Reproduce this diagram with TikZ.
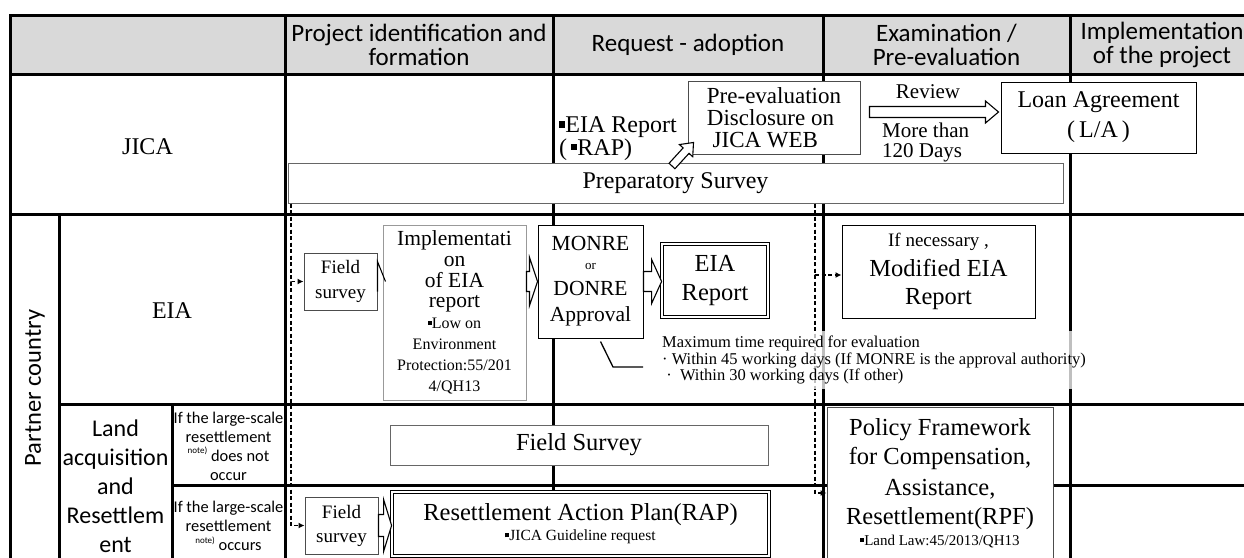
\documentclass[tikz,border=0pt]{standalone}
\usepackage{fontspec}
\setmainfont{Liberation Serif}
\newfontfamily\carl{Carlito}
\usetikzlibrary{calc,arrows.meta}
\newcommand\fsz[2]{\fontsize{#1}{#2}\selectfont\spaceskip=0.25em\xspaceskip=0.25em\relax}
\newcommand\sqb{\raisebox{0.22em}{\rule{0.26em}{0.26em}}}
\newcommand\nt{\raisebox{0.45em}{\fsz{9}{9}note)}}
\newcommand\barrow[5]{%
  \coordinate (bA) at (#1);
  \coordinate (bB) at (#2);
  \coordinate (bX) at ($(bB)!#5!(bA)$);
  \draw[blk] ($(bA)!#3!90:(bB)$) -- ($(bX)!#3!-90:(bA)$) -- ($(bX)!#4!-90:(bA)$) -- (bB)
    -- ($(bX)!#4!90:(bA)$) -- ($(bX)!#3!90:(bA)$) -- ($(bA)!#3!-90:(bB)$) -- cycle;}
\definecolor{hdr}{HTML}{D9D9D9}
\begin{document}
\begin{tikzpicture}[x=1pt,y=-1pt,
  tbl/.style={line width=3pt, line cap=rect},
  box/.style={draw=black, line width=1pt, fill=white, inner sep=0pt, align=center},
  gbox/.style={box, draw=black!60},
  lbox/.style={box, draw=black!40},
  dbl/.style={box, double, double distance=1.6pt, line width=0.8pt},
  dsh/.style={dash pattern=on 4pt off 2.5pt, line width=1.5pt, -{Latex[length=6pt,width=6pt]}},
  blk/.style={draw=black, fill=white, line width=1.1pt, line join=miter},
  lbl/.style={align=center, inner sep=0pt}]
\useasboundingbox (0,0) rectangle (1244,557);
\clip (0,0) rectangle (1244,557);
% header
\fill[hdr] (10,15) rectangle (1244,74);
\draw[tbl] (10,15) -- (1244,15) (10,74) -- (1244,74) (10,214) -- (1244,214)
  (59,404) -- (1244,404) (172,485) -- (1244,485)
  (10,15) -- (10,560) (59,214) -- (59,560) (172,404) -- (172,560)
  (285,15) -- (285,560) (553,15) -- (553,560) (823,15) -- (823,560) (1070,15) -- (1070,560);
\node[lbl, font=\carl\fontsize{25}{24}\selectfont] (h1) at (419,45) {Project identification and\\formation};
\node[lbl, font=\carl\fontsize{25}{24}\selectfont] (h2) at (688,45) {Request - adoption};
\node[lbl, font=\carl\fontsize{25}{24}\selectfont] (h3) at (946.5,45) {Examination /\\Pre-evaluation};
\node[lbl, font=\carl\fontsize{25}{24}\selectfont] (h4) at (1162,45) {Implementation\\of the project};
% row labels
\node[lbl, font=\fsz{24}{26}] (jica) at (147.5,147) {JICA};
\node[lbl, font=\fsz{24}{26}] (eia) at (172,311) {EIA};
\node[lbl, rotate=90, font=\carl\fontsize{24.5}{26}\selectfont] (pc) at (35,388) {Partner country};
\node[lbl, font=\carl\fontsize{24}{29}\selectfont] (land) at (115.5,486) {Land\\acquisition\\and\\Resettlem\\ent};
\node[lbl, font=\carl\fontsize{16.4}{19}\selectfont] (cnd1) at (228.5,446) {If the large-scale\\resettlement\\\nt{} does not\\occur};
\node[lbl, font=\carl\fontsize{16.4}{19}\selectfont] (cnd2) at (228.5,526) {If the large-scale\\resettlement\\\nt{} occurs};
% JICA row
\node[gbox, minimum width=775pt, minimum height=40pt, font=\fsz{24}{24}] (prep) at (675.5,183) {Preparatory Survey};
\node[box, draw=black!70, align=left, minimum width=172pt, minimum height=73pt, font=\fsz{23}{22}] (pre) at (774,117.5) {Pre-evaluation\\Disclosure on\\\ JICA WEB};
\node[lbl, align=left, anchor=west, font=\fsz{24}{17}] (eiat) at (559,139) {\sqb EIA Report\\(\,\sqb RAP)};
\node[lbl, font=\fsz{21}{20}] (rev) at (928,92) {Review};
\node[lbl, align=left, anchor=west, font=\fsz{21}{20}] (more) at (882,142) {More than\\120 Days};
\node[box, minimum width=195pt, minimum height=71pt, font=\fsz{24}{30}] (loan) at (1098.5,117.5) {Loan Agreement\\(\,L/A\,)};
% EIA row
\node[box, draw=black!70, minimum width=73pt, minimum height=57pt, font=\fsz{19}{25}] (fs1) at (340.5,281.5) {Field\\survey};
\node[lbox, minimum width=143pt, minimum height=175pt, text width=140pt] (impl) at (454.5,312.5)
  {{\fsz{21.5}{20.7}Implementati\par on\par of EIA\par report\par}{\fsz{16}{21}\sqb Low on\par Environment\par Protection:55/201\par 4/QH13\par}};
\node[box, minimum width=105pt, minimum height=113pt, text width=102pt] (monre) at (590.5,281.5)
  {{\fsz{21.5}{24}MONRE\par}{\fsz{13}{19}or\par}{\fsz{21.5}{26}DONRE\par Approval\par}};
\node[dbl, minimum width=106pt, minimum height=73pt, font=\fsz{24.5}{29}] (eiar) at (715,280.5) {EIA\\Report};
\node[box, minimum width=193pt, minimum height=93pt, text width=190pt] (mod) at (938.5,271.5)
  {{\fsz{19}{24}If necessary ,\par}{\fsz{24.5}{30}Modified EIA\par}{\fsz{24.5}{28}Report\par}};
% land rows
\node[gbox, minimum width=378pt, minimum height=40pt, font=\fsz{24.5}{26}] (fsv) at (579,445) {Field Survey};
\node[box, draw=black!70, minimum width=73pt, minimum height=57pt, font=\fsz{19}{24}] (fs2) at (341.5,525.5) {Field\\survey};
\node[dbl, minimum width=377pt, minimum height=64pt, text width=370pt] (rap) at (580.5,524)
  {{\fsz{24.5}{24}Resettlement Action Plan(RAP)\par}{\fsz{15.5}{20}\sqb JICA Guideline request\par}};
\node[box, draw=black!70, minimum width=226pt, minimum height=152pt, text width=222pt] (rpf) at (940,483)
  {{\fsz{24.5}{29}Policy Framework\par for Compensation,\par}{\fsz{24.5}{31}Assistance,\par}{\fsz{24.5}{29}Resettlement(RPF)\par}{\fsz{15}{21}\sqb Land Law:45/2013/QH13\par}};
% dashed connectors
\coordinate (dL) at (291,0);
\coordinate (dR) at (815,0);
\draw[dsh] (prep.south -| dL) |- (fs1.west);
\draw[dsh] (prep.south -| dL) |- (fs2.west);
\draw[dsh] (prep.south -| dR) |- ($(mod.west)+(0,3.5)$);
\draw[dsh] (prep.south -| dR) |- ($(rpf.west)+(0,10)$);
% block arrows
\barrow{fs1.east}{$(impl.west |- fs1.east)+(3,0)$}{10pt}{20pt}{8pt}
\barrow{impl.east |- monre.west}{monre.west}{10pt}{24pt}{8pt}
\barrow{monre.east}{eiar.west |- monre.east}{10pt}{22pt}{10pt}
\barrow{fs2.east}{rap.west |- fs2.east}{11pt}{26pt}{8pt}
\coordinate (rvA) at ($(pre.east)+(9,-5.5)$);
\coordinate (rvB) at ($(loan.west)+(-2,-5.5)$);
\barrow{rvA}{rvB}{5.5pt}{11pt}{13pt}
\coordinate (dgA) at (672,166);
\coordinate (dgB) at ($(pre.south west)+(6,-12)$);
\barrow{dgA}{dgB}{4pt}{9pt}{11pt}
% callout
\node[fill=white, fill opacity=0.75, text opacity=1, anchor=north west, align=left,
  inner xsep=2pt, inner ysep=5pt, font=\fsz{16.5}{16.5}] (maxt) at (660,331)
  {Maximum time required for evaluation\\
   \textperiodcentered\ Within 45 working days (If MONRE is the approval authority)\\
   \ \textperiodcentered\ \ Within 30 working days (If other)};
\coordinate (cl1) at ($(monre.south)+(10,3)$);
\coordinate (cl2) at (613,367);
\draw[line width=1.3pt] (cl1) -- (cl2) -- (cl2 -| 643,0);
\end{tikzpicture}
\end{document}
